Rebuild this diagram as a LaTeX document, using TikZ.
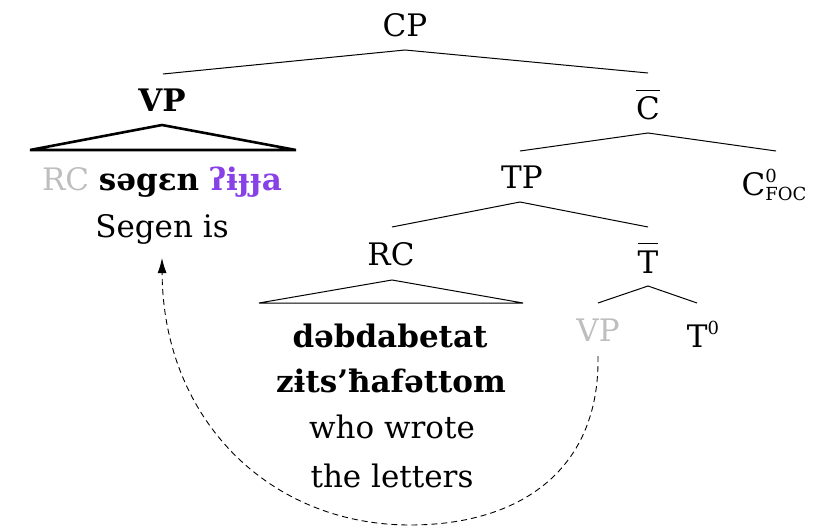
\documentclass[tikz,border=0pt]{standalone}
\usepackage{fontspec}
\setmainfont{DejaVu Serif}
\usetikzlibrary{arrows.meta}
\definecolor{ipapurple}{RGB}{135,65,230}
\definecolor{ghost}{RGB}{190,190,190}
\newcommand\mybar[1]{\vbox{\hrule height 1.2pt\kern 6pt\hbox{#1}}}
\newcommand\subsup{\fontsize{18}{18}\selectfont\rlap{\raisebox{13pt}{0}}\raisebox{-5pt}{FOC}}
\newcommand\suponly{\fontsize{18}{18}\selectfont\raisebox{13pt}{0}}
\begin{document}
\begin{tikzpicture}[x=1pt,y=-1pt,
  lbl/.style={inner sep=0pt, anchor=base, font=\fontsize{31}{45}\selectfont},
  branch/.style={line width=1pt},
  roof/.style={line width=1pt, line join=miter},
  thickroof/.style={line width=2.6pt, line join=miter}]
\useasboundingbox (0,0) rectangle (831,527);
% labels
\node[lbl] (CP) at (405,37) {CP};
\node[lbl] (VP) at (162,112) {\bfseries VP};
\node[lbl] (Cb) at (648,120) {\mybar{C}};
\node[lbl] (VPtext) at (162,190) {\textcolor{ghost}{RC} \textbf{səgɛn} \textcolor{ipapurple}{\textbf{ʔɨɟɟa}}};
\node[lbl] (Seg) at (162,237) {Segen is};
\node[lbl] (TP) at (522,188) {TP};
\node[lbl] (C0) at (774,195) {C\subsup};
\node[lbl] (RC) at (391,265) {RC};
\node[lbl] (Tb) at (648,273) {\mybar{T}};
\node[lbl] (VPg) at (598,341) {\textcolor{ghost}{VP}};
\node[lbl] (T0) at (703,347) {T\suponly};
\node[lbl] (rc1) at (390,347) {\bfseries dəbdabetat};
\node[lbl] (rc2) at (391,392) {\bfseries zɨts’ħafəttom};
\node[lbl] (rc3) at (392,438) {who wrote};
\node[lbl] (rc4) at (392,487) {the letters};
% branch points
\coordinate (cpA) at (405,50);
\coordinate (vpE) at (163,74);
\coordinate (cbE) at (648,73);
\coordinate (cbA) at (648,133);
\coordinate (tpE) at (520,151);
\coordinate (c0E) at (776,151);
\coordinate (tpA) at (520,202);
\coordinate (rcE) at (392,227);
\coordinate (tbE) at (648,227);
\coordinate (tbA) at (648,286);
\coordinate (vgE) at (598,303);
\coordinate (t0E) at (697,303);
% roofs
\coordinate (vpR) at (162,125);
\coordinate (vpL1) at (30,150);
\coordinate (vpR1) at (296,150);
\coordinate (rcR) at (392,280);
\coordinate (rcL1) at (259,303);
\coordinate (rcR1) at (523,303);
\draw[branch] (vpE) -- (cpA) -- (cbE);
\draw[branch] (tpE) -- (cbA) -- (c0E);
\draw[branch] (rcE) -- (tpA) -- (tbE);
\draw[branch] (vgE) -- (tbA) -- (t0E);
\draw[thickroof] (vpL1) -- (vpR) -- (vpR1) -- cycle;
\draw[roof] (rcL1) -- (rcR) -- (rcR1) -- cycle;
% movement arrow
\draw[line width=0.9pt, dash pattern=on 6pt off 4pt, -{Latex[length=15pt,width=9pt]}]
  ([yshift=-15pt]VPg.south) .. controls (600,470) and (520,525) .. (410,525)
  .. controls (270,525) and (163,420) .. ([yshift=-14pt]Seg.south);
\end{tikzpicture}
\end{document}
